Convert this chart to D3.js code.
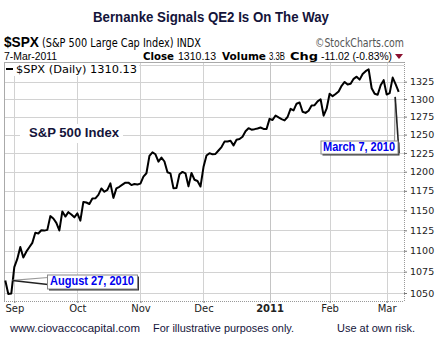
<!DOCTYPE html>
<html><head><meta charset="utf-8">
<script src="https://cdn.jsdelivr.net/npm/d3@7"></script>
<style>html,body{margin:0;padding:0;background:#fff;}svg{display:block;}</style>
</head><body>
<svg id="c" width="437" height="341"></svg>
<script>
// ---- data ----
const dates = [
"2010-08-27","2010-08-30","2010-08-31",
"2010-09-01","2010-09-02","2010-09-03","2010-09-07","2010-09-08","2010-09-09","2010-09-10","2010-09-13","2010-09-14","2010-09-15","2010-09-16","2010-09-17","2010-09-20","2010-09-21","2010-09-22","2010-09-23","2010-09-24","2010-09-27","2010-09-28","2010-09-29","2010-09-30",
"2010-10-01","2010-10-04","2010-10-05","2010-10-06","2010-10-07","2010-10-08","2010-10-11","2010-10-12","2010-10-13","2010-10-14","2010-10-15","2010-10-18","2010-10-19","2010-10-20","2010-10-21","2010-10-22","2010-10-25","2010-10-26","2010-10-27","2010-10-28","2010-10-29",
"2010-11-01","2010-11-02","2010-11-03","2010-11-04","2010-11-05","2010-11-08","2010-11-09","2010-11-10","2010-11-11","2010-11-12","2010-11-15","2010-11-16","2010-11-17","2010-11-18","2010-11-19","2010-11-22","2010-11-23","2010-11-24","2010-11-26","2010-11-29","2010-11-30",
"2010-12-01","2010-12-02","2010-12-03","2010-12-06","2010-12-07","2010-12-08","2010-12-09","2010-12-10","2010-12-13","2010-12-14","2010-12-15","2010-12-16","2010-12-17","2010-12-20","2010-12-21","2010-12-22","2010-12-23","2010-12-27","2010-12-28","2010-12-29","2010-12-30","2010-12-31",
"2011-01-03","2011-01-04","2011-01-05","2011-01-06","2011-01-07","2011-01-10","2011-01-11","2011-01-12","2011-01-13","2011-01-14","2011-01-18","2011-01-19","2011-01-20","2011-01-21","2011-01-24","2011-01-25","2011-01-26","2011-01-27","2011-01-28","2011-01-31",
"2011-02-01","2011-02-02","2011-02-03","2011-02-04","2011-02-07","2011-02-08","2011-02-09","2011-02-10","2011-02-11","2011-02-14","2011-02-15","2011-02-16","2011-02-17","2011-02-18","2011-02-22","2011-02-23","2011-02-24","2011-02-25","2011-02-28",
"2011-03-01","2011-03-02","2011-03-03","2011-03-04","2011-03-07"];
const closes = [
1064.59,1048.92,1049.33,
1080.29,1090.10,1104.51,1091.84,1098.87,1104.18,1109.55,1121.90,1121.10,1125.07,1124.66,1125.59,1142.71,1139.78,1134.28,1124.83,1148.67,1142.16,1147.70,1144.73,1141.20,
1146.24,1137.03,1160.75,1159.97,1158.06,1165.15,1165.32,1169.77,1178.10,1173.81,1176.19,1184.71,1165.90,1178.17,1180.26,1183.08,1185.62,1185.64,1182.45,1183.78,1183.26,
1184.38,1193.57,1197.96,1221.06,1225.85,1223.25,1213.40,1218.71,1213.54,1199.21,1197.75,1178.34,1178.59,1196.69,1199.73,1197.84,1180.73,1198.35,1189.40,1187.76,1180.55,
1206.07,1221.53,1224.71,1223.12,1223.75,1228.28,1233.00,1240.40,1240.46,1241.59,1235.23,1242.87,1243.91,1247.08,1254.60,1258.84,1256.77,1257.54,1258.51,1259.78,1257.88,1257.64,
1271.87,1270.20,1276.56,1273.85,1271.50,1269.75,1274.48,1285.96,1283.76,1293.24,1295.02,1281.92,1280.26,1283.35,1290.84,1291.18,1296.63,1299.54,1276.34,1286.12,
1307.59,1304.03,1307.10,1310.87,1319.05,1324.57,1320.88,1321.87,1329.15,1332.32,1328.01,1336.32,1340.43,1343.01,1315.44,1307.40,1306.10,1319.88,1327.22,
1306.33,1308.44,1330.97,1321.15,1310.13];
const monthLabels = ["Sep","Oct","Nov","Dec","2011","Feb","Mar"];
const yTicks = [1050,1075,1100,1125,1150,1175,1200,1225,1250,1275,1300,1325,1350];
const yLabels = [1050,1075,1100,1125,1150,1175,1200,1225,1250,1275,1300,1325];
const titleText = "Bernanke Signals QE2 Is On The Way";
const annotations = [
  {label:"August 27, 2010", date:"2010-08-27"},
  {label:"March 7, 2010", date:"2011-03-07"}
];

// ---- layout ----
const svg = d3.select("#c");
const L = 4, R = 404, T = 62, B = 301;
const navy = "#14143a";
const idx = d3.range(dates.length);
const x = d3.scaleLinear().domain([-0.43, dates.length + 0.77]).range([L, R]);
const y = d3.scaleLog().domain([1040.8, 1354]).range([B, T]);

// title
svg.append("text").attr("x", 211).attr("y", 22).attr("text-anchor","middle")
  .attr("font-family","Liberation Sans, Arial, sans-serif").attr("font-weight","bold")
  .attr("font-size",15).attr("fill",navy).attr("textLength",236).attr("lengthAdjust","spacingAndGlyphs")
  .text(titleText);

// header
const hf = "Liberation Sans, Arial, sans-serif";
function t(xp, yp, s, opts={}) {
  const e = svg.append("text").attr("x", xp).attr("y", yp).attr("font-family", opts.ff || hf)
    .attr("font-size", opts.fs || 11).attr("fill", opts.fill || "#000")
    .attr("font-weight", opts.bold ? "bold" : "normal").text(s);
  if (opts.anchor) e.attr("text-anchor", opts.anchor);
  if (opts.len) e.attr("textLength", opts.len).attr("lengthAdjust","spacingAndGlyphs");
  return e;
}
t(4, 47, "$SPX", {bold:true, fs:15, len:35});
t(42, 46.5, "(S&P 500 Large Cap Index) INDX", {fs:11.5, len:159, ff:"DejaVu Sans, Verdana, sans-serif"});
t(315, 46.5, "©StockCharts.com", {fs:12, len:89, fill:"#555", ff:"DejaVu Sans, Verdana, sans-serif"});
t(4, 59.5, "7-Mar-2011", {fs:10.5, len:53});
t(143, 59.5, "Close", {bold:true, fs:11, len:31, ff:"DejaVu Sans, Verdana, sans-serif"});
t(178, 59.5, "1310.13", {fs:11, len:38});
t(222, 59.5, "Volume", {bold:true, fs:11, len:44, ff:"DejaVu Sans, Verdana, sans-serif"});
t(269, 59.5, "3.3B", {fs:11, len:16});
t(290, 59.5, "Chg", {bold:true, fs:11, len:28, ff:"DejaVu Sans, Verdana, sans-serif"});
t(321, 59.5, "-11.02 (-0.83%)", {fs:11, len:71});
svg.append("path").attr("d","M395,54 L403,54 L399,59 Z").attr("fill","#8b1030");

// plot bg
svg.append("rect").attr("x",L).attr("y",T).attr("width",R-L).attr("height",B-T).attr("fill","#fff");

// month starts
const monthIdx = [];
idx.forEach(i => { if (i > 0 && dates[i].slice(5,7) !== dates[i-1].slice(5,7)) monthIdx.push(i); });

// gridlines
const g = svg.append("g");
g.selectAll(".hg").data(yTicks).join("line")
  .attr("x1",L).attr("x2",R).attr("y1",d=>Math.round(y(d))+0.5).attr("y2",d=>Math.round(y(d))+0.5)
  .attr("stroke","#d2d2d2").attr("stroke-width",1);
g.selectAll(".vg").data(monthIdx).join("line")
  .attr("x1",d=>Math.round(x(d))+0.5).attr("x2",d=>Math.round(x(d))+0.5).attr("y1",T).attr("y2",B)
  .attr("stroke",(d,i)=>monthLabels[i]==="2011" ? "#c4c4c4" : "#d2d2d2").attr("stroke-width",1);

// frame
svg.append("line").attr("x1",L+0.5).attr("x2",L+0.5).attr("y1",T).attr("y2",B).attr("stroke","#aaa");
svg.append("line").attr("x1",L).attr("x2",R).attr("y1",T+0.5).attr("y2",T+0.5).attr("stroke","#aaa");
svg.append("line").attr("x1",R+0.5).attr("x2",R+0.5).attr("y1",T).attr("y2",B).attr("stroke","#999").attr("stroke-dasharray","1,1");
svg.append("line").attr("x1",L).attr("x2",R).attr("y1",B+0.5).attr("y2",B+0.5).attr("stroke","#999").attr("stroke-dasharray","1,1");

// right axis
const ya = svg.append("g").attr("transform",`translate(${R},0)`)
  .call(d3.axisRight(y).tickValues(yLabels).tickSize(3).tickFormat(d3.format("d")));
ya.select(".domain").remove();
ya.selectAll(".tick line").attr("stroke","#777");
ya.selectAll(".tick text").attr("x",6).attr("font-family","DejaVu Sans, Verdana, sans-serif")
  .attr("font-size",9.5).attr("fill","#222");

// bottom axis
const xa = svg.append("g").attr("transform",`translate(0,${B})`)
  .call(d3.axisBottom(x).tickValues(monthIdx).tickSize(2).tickFormat((d,i)=>monthLabels[i]));
xa.select(".domain").remove();
xa.selectAll(".tick line").attr("stroke","#777");
xa.selectAll(".tick text").attr("y",4).attr("font-family","DejaVu Sans, Verdana, sans-serif")
  .attr("font-size",10).attr("fill","#222")
  .attr("font-weight",(d,i)=>monthLabels[i]==="2011"?"bold":"normal");

// legend
svg.append("rect").attr("x",L+1).attr("y",T+1).attr("width",134).attr("height",13).attr("fill","#fff");
svg.append("rect").attr("x",6).attr("y",68).attr("width",7).attr("height",2).attr("fill","#000");
t(16, 72.5, "$SPX (Daily) 1310.13", {fs:11, len:121, ff:"DejaVu Sans, Verdana, sans-serif"});

// S&P 500 Index label
svg.append("rect").attr("x",20).attr("y",124).attr("width",103).attr("height",19).attr("fill","#fff");
t(29, 137, "S&P 500 Index", {bold:true, fs:13, len:90, fill:navy});

// price line
svg.append("path").datum(idx)
  .attr("d", d3.line().x(i=>x(i)).y(i=>y(closes[i])))
  .attr("fill","none").attr("stroke","#000").attr("stroke-width",2).attr("stroke-linejoin","round");

// annotations
function callout(tip, p1, p2, box, label, tx, ty, len) {
  svg.append("path").attr("d",`M${tip[0]},${tip[1]}L${p1[0]},${p1[1]}L${p2[0]},${p2[1]}Z`).attr("fill","#fff");
  svg.append("line").attr("x1",tip[0]).attr("y1",tip[1]).attr("x2",p1[0]).attr("y2",p1[1]).attr("stroke","#999").attr("stroke-width",1.2);
  svg.append("line").attr("x1",tip[0]).attr("y1",tip[1]).attr("x2",p2[0]).attr("y2",p2[1]).attr("stroke","#222").attr("stroke-width",1.6);
  svg.append("rect").attr("x",box[0]+2).attr("y",box[1]+2).attr("width",box[2]).attr("height",box[3]).attr("fill","#333");
  svg.append("rect").attr("x",box[0]+0.5).attr("y",box[1]+0.5).attr("width",box[2]).attr("height",box[3])
    .attr("fill","#fff").attr("stroke","#888");
  t(tx, ty, label, {bold:true, fs:12, len:len, fill:"#0000ee"});
}
const a0 = annotations[0], i0 = dates.indexOf(a0.date);
const p0 = [x(i0)+7, y(closes[i0])];
callout(p0, [48, 277.5], [48, 284.5], [47, 274.5, 90, 14], a0.label, 50, 284.5, 84);
const a1 = annotations[1], i1 = dates.indexOf(a1.date);
const q1 = [x(i1)-3.5, y(closes[i1])+5];
callout(q1, [394.5, 141], [399, 153], [320.5, 140.5, 77, 13], a1.label, 323, 150.5, 72);

// footer
t(10, 332, "www.ciovaccocapital.com", {fs:11, len:130, fill:navy});
t(153, 332, "For illustrative purposes only.", {fs:11, len:141, fill:navy});
t(337, 332, "Use at own risk.", {fs:11, len:78, fill:navy});
</script>
</body></html>
